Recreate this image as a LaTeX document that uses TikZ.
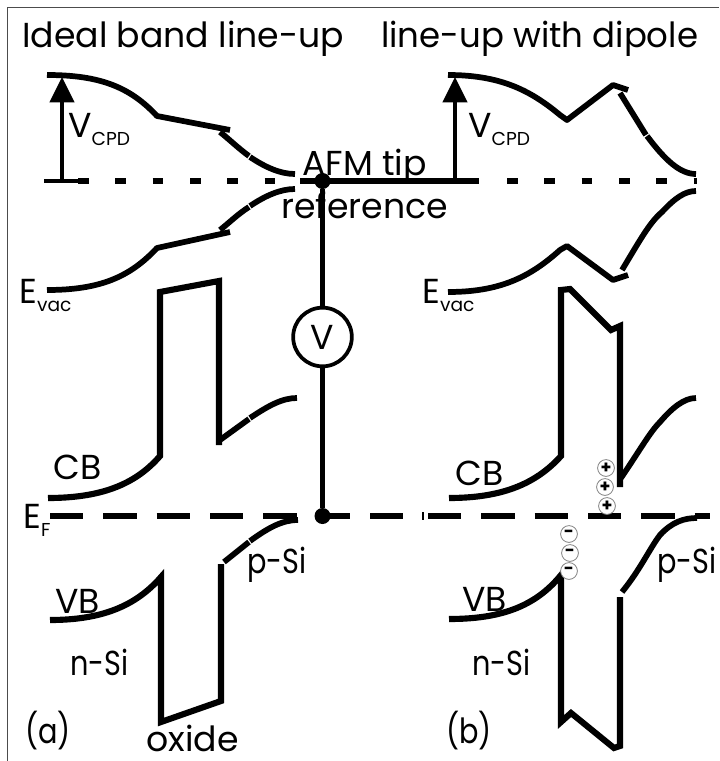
\documentclass[tikz,border=0pt]{standalone}
\usepackage{fontspec}
\setmainfont{Poppins}
\usetikzlibrary{arrows.meta}
\tikzset{every picture/.style={line join=round}}
\tikzset{band/.style={draw, line width=4.3pt}}
\tikzset{wall/.style={draw, line width=4.6pt, line join=miter}}
\tikzset{dashfine/.style={draw, line width=3.9pt, dash pattern=on 8pt off 20pt}}
\tikzset{dashfermi/.style={draw, line width=4.2pt, dash pattern=on 25pt off 15pt}}
\tikzset{wire/.style={draw, line width=3.3pt}}
\tikzset{arrow/.style={-{Triangle[length=19pt,width=18pt]}, line width=3pt}}
\tikzset{lab/.style={inner sep=0pt, anchor=base west, font=\fontsize{26}{28}\selectfont}}
\tikzset{slim/.style={lab, xscale=.83, transform shape}}
\tikzset{charge/.style={circle, draw=black!50, line width=.6pt, fill=white, inner sep=0pt,
  minimum size=12.6pt, font=\fontsize{13}{13}\bfseries\selectfont}}
\newcommand{\subl}[2]{#1\raisebox{-6pt}{\fontsize{14}{14}\selectfont #2}}

\begin{document}
\begin{tikzpicture}[x=0.75pt, y=-0.75pt]
  \useasboundingbox (0,0) rectangle (719,761);
  % frame
  \draw[black!70, line width=.8pt] (7.5,761) -- (7.5,7.5) -- (719,7.5);

  % titles
  \node[lab] (titlea) at (22,47) {Ideal band line-up};
  \node[lab, xscale=.98, transform shape] (titleb) at (381,47) {line-up with dipole};

  % reference levels
  \draw[dashfine] (78,181) -- (300,181);
  \draw[band] (300,181) -- (479,181);
  \draw[dashfine] (507,181) -- (697,181);
  \draw[dashfermi] (50,516) -- (350,516);
  \draw[dashfermi] (370,516) -- (403,516);
  \draw[black, line width=.8pt] (423,512) -- (423,520);
  \draw[dashfermi] (428,516) -- (710,516);

  % (a) vacuum level
  \draw[band] (47,75) .. controls (100,75) and (130,87) .. (157,116) -- (230,130);
  \draw[band] (220,132) .. controls (230,140) and (238,148) .. (249,156);
  \draw[band] (250,157) .. controls (265,167) and (280,174) .. (295,174);
  \draw[band] (47,290) .. controls (100,290) and (130,277) .. (157,248) -- (230,232);
  \draw[band] (220,230) .. controls (230,222) and (238,214) .. (249,207);
  \draw[band] (250,206) .. controls (265,196) and (280,189) .. (295,189);

  % (a) bands
  \draw[wall] (48,498) .. controls (100,498) and (135,485) .. (160,456) -- (160,292) -- (219,281) -- (219,445);
  \draw[band] (220,440) -- (249,419);
  \draw[band] (250,418) .. controls (268,406) and (282,398) .. (297,398);
  \draw[wall] (50,620) .. controls (100,620) and (135,607) .. (161,577) -- (161,722) -- (221,701) -- (221,564);
  \draw[band] (224,562) -- (249,542);
  \draw[band] (250,541) .. controls (268,528) and (282,520) .. (298,520);

  % (b) vacuum level
  \draw[band] (448,75) .. controls (500,75) and (530,90) .. (560,115) -- (567,120) -- (613,85) -- (628,90);
  \draw[band] (620,93) -- (646,135);
  \draw[band] (647,136) .. controls (665,160) and (680,174) .. (696,174);
  \draw[band] (448,292) .. controls (500,292) and (530,277) .. (560,250) -- (567,246) -- (613,280) -- (628,275);
  \draw[band] (622,270) .. controls (640,240) and (650,222) .. (662,212) .. controls (675,198) and (685,191) .. (696,191);

  % (b) bands
  \draw[wall] (449,498) .. controls (500,498) and (535,485) .. (561,456) -- (561,290) -- (570,289) -- (611,330) -- (620,326) -- (620,487);
  \draw[band] (621,478) .. controls (640,450) and (650,432) .. (660,422) .. controls (672,408) and (684,398) .. (696,398);
  \draw[wall] (449,619) .. controls (500,619) and (535,607) .. (561,575) -- (561,722) -- (571,713) -- (614,748) -- (620,746) -- (620,597);
  \draw[band] (622,592) .. controls (640,570) and (650,548) .. (660,535) .. controls (672,522) and (684,518) .. (697,518);

  % contact potential
  \draw[wire] (44,181) -- (78,181);
  \draw[arrow] (62,181) -- (62,77);
  \draw[arrow] (455,181) -- (455,77);

  % tip circuit
  \node[circle, fill=black, inner sep=0pt, minimum size=12pt] (tipdot) at (322.5,181) {};
  \node[circle, fill=black, inner sep=0pt, minimum size=12pt] (fermidot) at (322.5,516) {};
  \node[circle, draw, fill=white, line width=2.8pt, inner sep=0pt, minimum size=44pt,
    font=\fontsize{26}{28}\selectfont] (meter) at (322.5,337) {V};
  \draw[wire] (tipdot) -- (meter);
  \draw[wire] (meter) -- (fermidot);

  % labels
  \node[lab] (vcpda) at (68,137) {\subl{V}{CPD}};
  \node[lab] (vcpdb) at (468,137) {\subl{V}{CPD}};
  \node[lab] (tiplab) at (302,175) {AFM tip};
  \node[lab] (reflab) at (281,218) {reference};
  \node[lab] (evaca) at (19,303) {\subl{E}{vac}};
  \node[lab] (evacb) at (422,303) {\subl{E}{vac}};
  \node[lab] (cba) at (53,479) {CB};
  \node[lab] (cbb) at (455,485) {CB};
  \node[lab] (ef) at (23,528) {\subl{E}{F}};
  \node[lab] (vba) at (55,613) {VB};
  \node[lab] (vbb) at (462,611) {VB};
  \node[slim] (nsia) at (70,675) {n-Si};
  \node[slim] (nsib) at (472,675) {n-Si};
  \node[slim] (psia) at (247,573) {p-Si};
  \node[slim] (psib) at (657,573) {p-Si};
  \node[slim] (capa) at (25,743) {(a)};
  \node[slim] (capb) at (446,743) {(b)};
  \node[lab] (oxide) at (146,751) {oxide};

  % dipole charges
  \foreach \name/\px/\py in {pa/606/468, pb/605/487, pc/607/506}
    \node[charge] (\name) at (\px,\py) {+};
  \foreach \name/\px/\py in {ma/569/534, mb/570/553, mc/569/571}
    \node[charge] (\name) at (\px,\py) {-};
\end{tikzpicture}
\end{document}
